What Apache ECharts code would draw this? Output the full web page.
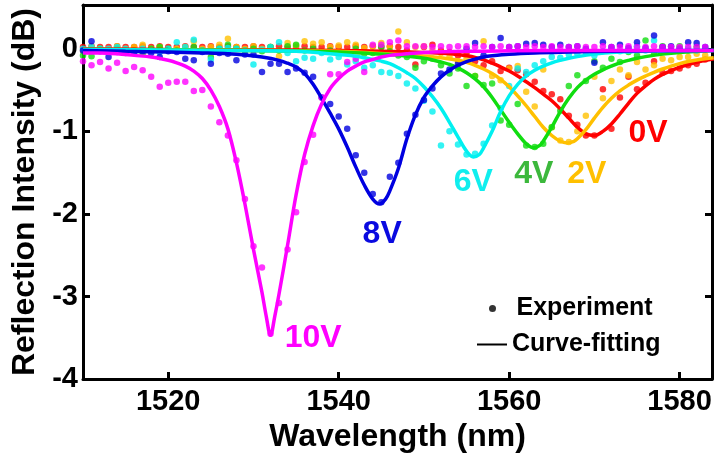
<!DOCTYPE html>
<html>
<head>
<meta charset="utf-8">
<script src="https://cdn.jsdelivr.net/npm/echarts@6/dist/echarts.min.js"></script>
<style>
  html, body { margin: 0; padding: 0; background: #fff; }
  #chart { width: 717px; height: 458px; }
</style>
</head>
<body>
<div id="chart"></div>
<script>
// ---------- DATA ----------
const wavelength = [
  1510,1511,1512,1513,1514,1515,1516,1517,1518,1519,
  1520,1521,1522,1523,1524,1525,1526,1527,1528,1529,
  1530,1531,1532,1533,1534,1535,1536,1537,1538,1539,
  1540,1541,1542,1543,1544,1545,1546,1547,1548,1549,
  1550,1551,1552,1553,1554,1555,1556,1557,1558,1559,
  1560,1561,1562,1563,1564,1565,1566,1567,1568,1569,
  1570,1571,1572,1573,1574,1575,1576,1577,1578,1579,
  1580,1581,1582,1583,1584
];

// Experiment (dots), one value per wavelength
const exp10V = [
  -0.15,-0.20,-0.16,-0.24,-0.17,-0.27,-0.22,-0.26,-0.34,-0.46,
  -0.41,-0.40,-0.40,-0.51,-0.50,-0.70,-0.89,-1.05,-1.35,-1.82,
  -2.39,-2.65,-3.45,-3.08,-2.43,-1.98,-1.37,-1.04,-0.59,-0.31,
  -0.31,-0.16,-0.12,-0.28,0.05,0.05,0.08,0.10,0.03,0.03,
  0.03,0.02,0.03,0.02,0.03,0.03,0.02,0.03,0.02,0.03,
  0.02,0.03,0.02,0.03,0.02,0.03,0.02,0.02,0.03,0.02,
  0.02,0.03,0.02,0.02,0.03,0.02,0.02,0.03,0.02,0.02,
  0.02,0.02,0.02,0.02,0.02
];
const exp8V = [
  -0.02,0.09,-0.03,-0.10,-0.04,-0.04,-0.05,-0.03,-0.05,-0.10,
  -0.03,-0.04,-0.12,-0.14,-0.04,-0.18,-0.05,-0.06,-0.14,-0.07,
  -0.07,-0.28,-0.18,-0.18,-0.28,-0.24,-0.29,-0.34,-0.59,-0.67,
  -0.82,-0.97,-1.29,-1.50,-1.76,-1.86,-1.55,-1.38,-1.03,-0.80,
  -0.62,-0.48,-0.30,-0.25,-0.18,0.00,0.07,-0.08,0.02,0.13,
  0.02,0.03,0.06,0.07,0.05,0.02,0.05,0.02,0.03,0.00,
  -0.17,0.08,0.02,0.05,0.01,0.08,0.01,0.16,0.02,0.03,
  0.00,0.08,0.07,0.02,0.02
];
const exp6V = [
  0.00,0.02,0.00,0.00,0.02,0.00,-0.03,0.00,-0.02,-0.04,
  0.00,0.08,0.02,0.11,-0.02,-0.13,0.00,0.01,0.00,-0.02,
  -0.19,-0.01,0.02,0.08,-0.05,-0.15,-0.11,-0.12,-0.05,-0.13,
  -0.10,-0.19,-0.15,-0.23,-0.20,-0.28,-0.29,-0.33,-0.42,-0.48,
  -0.63,-0.76,-1.17,-1.00,-1.16,-1.28,-1.27,-1.15,-0.93,-0.72,
  -0.45,-0.24,-0.28,-0.20,-0.15,-0.10,-0.11,-0.07,-0.06,-0.04,
  -0.08,-0.03,0.00,-0.03,-0.02,0.03,-0.02,0.10,0.00,-0.03,
  -0.02,0.00,-0.02,0.00,-0.02
];
const exp4V = [
  -0.08,-0.09,0.00,-0.02,0.00,-0.05,-0.02,-0.06,0.00,0.02,
  0.00,-0.02,-0.02,0.02,-0.02,-0.10,0.00,0.05,0.00,-0.02,
  0.00,-0.03,0.02,-0.02,0.03,0.05,-0.02,0.00,-0.04,-0.02,
  -0.05,-0.04,0.00,-0.06,-0.05,0.02,-0.03,-0.08,-0.10,-0.23,
  -0.15,-0.12,-0.20,-0.30,-0.24,-0.45,-0.33,-0.44,-0.42,-0.87,
  -0.92,-0.67,-1.17,-1.19,-1.15,-0.95,-0.75,-0.45,-0.32,-0.39,
  -0.15,-0.23,-0.12,-0.16,-0.04,-0.08,0.10,-0.05,0.03,-0.02,
  0.03,-0.02,0.02,-0.01,0.00
];
const exp2V = [
  -0.02,0.02,0.00,-0.01,0.03,0.00,0.02,0.05,0.00,0.02,
  -0.02,0.00,0.02,0.09,0.00,0.02,0.05,0.12,0.02,0.00,
  0.03,0.00,0.02,-0.09,0.07,0.04,0.09,0.06,0.08,0.02,
  0.04,0.08,0.05,0.01,0.03,0.07,0.02,0.21,0.08,0.02,
  0.03,-0.02,-0.05,-0.10,-0.15,-0.12,-0.33,0.09,-0.33,-0.38,
  -0.24,-0.21,-0.52,-0.70,-0.25,-0.95,-1.11,-1.13,-1.00,-0.81,
  -0.34,-0.60,-0.39,-0.25,-0.32,-0.16,-0.25,-0.20,-0.12,-0.14,
  -0.10,-0.10,-0.06,-0.08,-0.09
];
const exp0V = [
  0.02,0.03,0.02,0.02,0.03,0.02,0.02,0.03,0.02,0.03,
  0.02,0.02,0.03,0.02,0.02,0.03,0.02,0.03,0.02,0.02,
  0.03,0.02,0.02,0.03,0.02,0.02,0.03,0.02,0.02,0.03,
  0.02,0.02,0.03,0.02,0.03,0.02,0.03,0.02,-0.02,-0.19,
  0.02,0.05,-0.02,-0.04,-0.08,-0.05,-0.15,-0.20,-0.15,-0.27,
  -0.23,-0.26,-0.31,-0.40,-0.51,-0.55,-0.61,-0.81,-0.92,-1.05,
  -1.05,-0.49,-0.97,-0.59,-0.34,-0.49,-0.41,-0.15,-0.29,-0.27,
  -0.24,-0.20,-0.18,-0.13,-0.12
];

// Curve-fitting lines, [wavelength, dB]
const fit10V = [[1510,-0.05],[1512,-0.05],[1514,-0.06],[1516,-0.08],[1518,-0.10],[1520,-0.14],[1521,-0.17],[1522,-0.21],[1523,-0.27],[1524,-0.36],[1525,-0.50],[1526,-0.70],[1527,-0.97],[1528,-1.38],[1529,-1.88],[1530,-2.43],[1531,-2.95],[1531.5,-3.24],[1532,-3.47],[1532.5,-3.24],[1533,-2.97],[1534,-2.38],[1535,-1.77],[1536,-1.28],[1537,-0.93],[1538,-0.67],[1539,-0.48],[1540,-0.36],[1541,-0.27],[1542,-0.21],[1543,-0.16],[1544,-0.13],[1545,-0.10],[1546,-0.08],[1548,-0.06],[1550,-0.045],[1555,-0.03],[1560,-0.025],[1570,-0.02],[1584,-0.02]];
const fit8V = [[1510,-0.02],[1515,-0.03],[1520,-0.04],[1524,-0.05],[1527,-0.06],[1529,-0.075],[1531,-0.10],[1533,-0.14],[1534,-0.175],[1535,-0.22],[1536,-0.30],[1537,-0.43],[1538,-0.60],[1539,-0.78],[1540,-0.97],[1541,-1.19],[1542,-1.43],[1543,-1.65],[1544,-1.82],[1544.8,-1.88],[1545.5,-1.82],[1546,-1.72],[1547,-1.45],[1548,-1.09],[1549,-0.80],[1550,-0.59],[1551,-0.45],[1552,-0.34],[1553,-0.26],[1554,-0.20],[1555,-0.155],[1556,-0.125],[1557,-0.10],[1558,-0.085],[1560,-0.065],[1563,-0.05],[1567,-0.04],[1572,-0.03],[1584,-0.02]];
const fit6V = [[1510,-0.01],[1525,-0.02],[1535,-0.03],[1538,-0.05],[1540,-0.07],[1542,-0.09],[1544,-0.13],[1545,-0.15],[1546,-0.18],[1547,-0.23],[1548,-0.29],[1549,-0.36],[1550,-0.46],[1551,-0.58],[1552,-0.72],[1553,-0.89],[1554,-1.07],[1555,-1.24],[1555.8,-1.31],[1556.5,-1.28],[1557,-1.20],[1558,-1.00],[1559,-0.76],[1560,-0.57],[1561,-0.43],[1562,-0.33],[1563,-0.26],[1564,-0.21],[1565,-0.17],[1566,-0.14],[1567,-0.115],[1568,-0.095],[1570,-0.065],[1572,-0.045],[1576,-0.03],[1584,-0.02]];
const fit4V = [[1510,-0.01],[1530,-0.02],[1540,-0.04],[1544,-0.06],[1546,-0.07],[1548,-0.09],[1550,-0.115],[1551,-0.135],[1552,-0.16],[1553,-0.19],[1554,-0.235],[1555,-0.29],[1556,-0.365],[1557,-0.46],[1558,-0.59],[1559,-0.74],[1560,-0.89],[1561,-1.03],[1562,-1.15],[1562.9,-1.20],[1563.6,-1.17],[1564,-1.12],[1565,-0.95],[1566,-0.76],[1567,-0.60],[1568,-0.47],[1569,-0.38],[1570,-0.31],[1571,-0.255],[1572,-0.21],[1573,-0.17],[1574,-0.14],[1575,-0.115],[1576,-0.095],[1578,-0.065],[1580,-0.045],[1584,-0.02]];
const fit2V = [[1510,-0.01],[1530,-0.02],[1540,-0.03],[1544,-0.05],[1547,-0.07],[1550,-0.09],[1552,-0.11],[1554,-0.14],[1555,-0.165],[1556,-0.20],[1557,-0.245],[1558,-0.30],[1559,-0.37],[1560,-0.46],[1561,-0.57],[1562,-0.69],[1563,-0.82],[1564,-0.95],[1565,-1.05],[1566,-1.12],[1566.8,-1.14],[1567.6,-1.12],[1568,-1.09],[1569,-0.98],[1570,-0.84],[1571,-0.71],[1572,-0.60],[1573,-0.51],[1574,-0.44],[1575,-0.38],[1576,-0.33],[1577,-0.285],[1578,-0.245],[1579,-0.21],[1580,-0.18],[1581,-0.155],[1582,-0.135],[1583,-0.12],[1584,-0.11]];
const fit0V = [[1510,0.00],[1520,-0.01],[1535,-0.015],[1540,-0.02],[1545,-0.03],[1550,-0.045],[1552,-0.055],[1554,-0.07],[1555,-0.085],[1556,-0.105],[1557,-0.135],[1558,-0.175],[1559,-0.22],[1560,-0.27],[1561,-0.33],[1562,-0.40],[1563,-0.47],[1564,-0.55],[1565,-0.63],[1566,-0.73],[1567,-0.84],[1568,-0.95],[1569,-1.03],[1570,-1.05],[1571,-1.00],[1572,-0.91],[1573,-0.79],[1574,-0.66],[1575,-0.54],[1576,-0.45],[1577,-0.37],[1578,-0.31],[1579,-0.265],[1580,-0.225],[1581,-0.19],[1582,-0.165],[1583,-0.14],[1584,-0.12]];

const xTicks = [1520, 1540, 1560, 1580];
const yTicks = [-4, -3, -2, -1, 0];

// ---------- STYLE / LAYOUT ----------
const FONT = '"Liberation Sans", Arial, sans-serif';
const curveColors = { '10V':'#FF00FF', '8V':'#0000E0', '6V':'#00F0F0', '4V':'#10DD10', '2V':'#FFC000', '0V':'#FF0000' };
const labelColors = { '10V':'#FF00FF', '8V':'#0A0AE0', '6V':'#10EEEE', '4V':'#3CB83C', '2V':'#FFC000', '0V':'#FF0000' };
const labelAnchor = { '10V':[1537.0,-3.50], '8V':[1545.1,-2.24], '6V':[1555.8,-1.62], '4V':[1562.9,-1.52], '2V':[1569.1,-1.52], '0V':[1576.3,-1.02] };
const expData = { '10V':exp10V, '8V':exp8V, '6V':exp6V, '4V':exp4V, '2V':exp2V, '0V':exp0V };
const fitData = { '10V':fit10V, '8V':fit8V, '6V':fit6V, '4V':fit4V, '2V':fit2V, '0V':fit0V };

const drawOrder = ['0V','2V','4V','6V','8V','10V'];
const series = [];
drawOrder.forEach(v => {
  series.push({
    type: 'scatter', name: 'exp-' + v,
    data: wavelength.map((x, i) => [x, expData[v][i]]),
    symbol: 'circle', symbolSize: 6.5,
    itemStyle: { color: curveColors[v] },
    z: 2, silent: true
  });
});
drawOrder.forEach(v => {
  series.push({
    type: 'line', name: 'fit-' + v,
    data: fitData[v],
    showSymbol: false, symbol: 'none',
    smooth: 0.35,
    lineStyle: { color: curveColors[v], width: 3.5 },
    itemStyle: { color: curveColors[v] },
    z: 3, silent: true,
    markPoint: {
      symbol: 'circle', symbolSize: 0, silent: true,
      data: [{ coord: labelAnchor[v], value: v }],
      label: { show: true, position: 'inside', formatter: v, color: labelColors[v],
               fontSize: 32, fontWeight: 'bold', fontFamily: FONT }
    }
  });
});
// legend proxies
series.push({ type: 'scatter', name: 'Experiment', data: [], itemStyle: { color: '#000' } });
series.push({ type: 'line', name: 'Curve-fitting', data: [], symbol: 'none', lineStyle: { color: '#000', width: 2 }, itemStyle: { color: '#000' } });

const axisLineStyle = { color: '#000', width: 3 };
const legendText = { fontSize: 25, fontWeight: 'bold', color: '#000', fontFamily: FONT };
const tickLabel = { fontSize: 29, fontWeight: 'bold', color: '#000', fontFamily: FONT, formatter: v => String(v) };

const option = {
  animation: false,
  backgroundColor: '#fff',
  grid: { left: 83, right: 5, top: 5, bottom: 76, containLabel: false },
  legend: [
    { data: [{ name: 'Experiment', icon: 'circle' }], left: 489, top: 296, itemWidth: 38, itemHeight: 7,
      selectedMode: false, textStyle: legendText, padding: 0 },
    { data: [{ name: 'Curve-fitting', icon: 'rect' }], left: 477, top: 332, itemWidth: 30, itemHeight: 2,
      selectedMode: false, textStyle: legendText, padding: 0 }
  ],
  xAxis: [
    { type: 'value', min: 1510, max: 1583.8, position: 'bottom',
      axisLine: { onZero: false, lineStyle: axisLineStyle },
      axisTick: { inside: true, length: 7, customValues: xTicks, lineStyle: { width: 3, color: '#000' } },
      axisLabel: Object.assign({ customValues: xTicks, margin: 8 }, tickLabel),
      splitLine: { show: false },
      name: 'Wavelength (nm)', nameLocation: 'middle', nameGap: 33,
      nameTextStyle: { fontSize: 32, fontWeight: 'bold', color: '#000', fontFamily: FONT } },
    { type: 'value', min: 1510, max: 1583.8, position: 'top',
      axisLine: { show: true, onZero: false, lineStyle: axisLineStyle },
      axisTick: { show: true, inside: true, length: 7, customValues: xTicks, lineStyle: { width: 3, color: '#000' } },
      axisLabel: { show: false }, splitLine: { show: false } }
  ],
  yAxis: [
    { type: 'value', min: -4, max: 0.53, position: 'left',
      axisLine: { show: true, onZero: false, lineStyle: axisLineStyle },
      axisTick: { show: true, inside: true, length: 7, customValues: yTicks, lineStyle: { width: 3, color: '#000' } },
      axisLabel: Object.assign({ customValues: yTicks, margin: 5 }, tickLabel),
      splitLine: { show: false },
      name: 'Reflection Intensity (dB)', nameLocation: 'middle', nameGap: 38, nameRotate: 90,
      nameTextStyle: { fontSize: 32, fontWeight: 'bold', color: '#000', fontFamily: FONT } },
    { type: 'value', min: -4, max: 0.53, position: 'right',
      axisLine: { show: true, onZero: false, lineStyle: axisLineStyle },
      axisTick: { show: true, inside: true, length: 7, customValues: yTicks, lineStyle: { width: 3, color: '#000' } },
      axisLabel: { show: false }, splitLine: { show: false } }
  ],
  series: series
};

const chart = echarts.init(document.getElementById('chart'), null, { renderer: 'canvas' });
chart.setOption(option);
</script>
</body>
</html>
